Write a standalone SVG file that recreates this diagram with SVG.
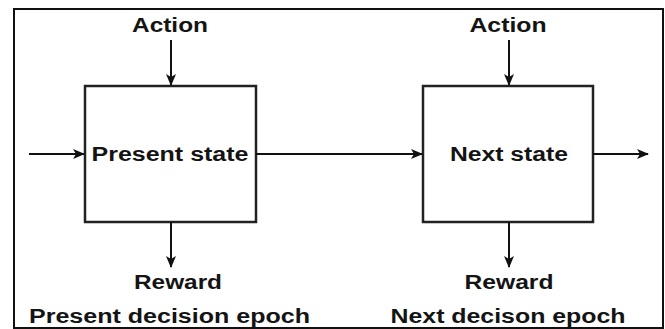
<svg xmlns="http://www.w3.org/2000/svg" width="665" height="329" viewBox="0 0 665 329">
<style>
.t{font-family:"Liberation Sans",Arial,sans-serif;font-weight:bold;font-size:20px;fill:#141414;text-anchor:middle}
.box{fill:#fff;stroke:#222;stroke-width:2.5}
.c{fill:none;stroke:#111;stroke-width:2}
</style>
<defs>
<marker id="ah" viewBox="0 0 12 10" refX="11" refY="5" markerWidth="12" markerHeight="10" markerUnits="userSpaceOnUse" orient="auto">
<path d="M0,0 L12,5 L0,10 L3,5 Z" fill="#111"/>
</marker>
</defs>
<rect x="0" y="0" width="665" height="329" fill="#fff"/>
<rect id="frame" x="14" y="9" width="649" height="319" fill="none" stroke="#111" stroke-width="2"/>
<g id="present-state">
<rect class="box" x="85" y="86" width="171" height="136"/>
<text class="t" x="170" y="161" textLength="157" lengthAdjust="spacingAndGlyphs">Present state</text>
</g>
<g id="next-state">
<rect class="box" x="423" y="86" width="170" height="136"/>
<text class="t" x="509" y="161" textLength="118" lengthAdjust="spacingAndGlyphs">Next state</text>
</g>
<g id="action-1"><text class="t" x="170" y="32" textLength="76" lengthAdjust="spacingAndGlyphs">Action</text></g>
<g id="action-2"><text class="t" x="508" y="32" textLength="77" lengthAdjust="spacingAndGlyphs">Action</text></g>
<g id="reward-1"><text class="t" x="178" y="289" textLength="88" lengthAdjust="spacingAndGlyphs">Reward</text></g>
<g id="reward-2"><text class="t" x="509" y="289" textLength="89" lengthAdjust="spacingAndGlyphs">Reward</text></g>
<g id="epoch-1"><text class="t" x="169.5" y="323" textLength="281" lengthAdjust="spacingAndGlyphs">Present decision epoch</text></g>
<g id="epoch-2"><text class="t" x="508" y="323" textLength="235" lengthAdjust="spacingAndGlyphs">Next decison epoch</text></g>
<g id="connectors">
<line class="c" x1="171" y1="40" x2="171" y2="85" marker-end="url(#ah)"/>
<line class="c" x1="509" y1="40" x2="509" y2="85" marker-end="url(#ah)"/>
<line class="c" x1="29" y1="154" x2="84" y2="154" marker-end="url(#ah)"/>
<line class="c" x1="256" y1="154" x2="422" y2="154" marker-end="url(#ah)"/>
<line class="c" x1="593" y1="154" x2="648" y2="154" marker-end="url(#ah)"/>
<line class="c" x1="171" y1="222" x2="171" y2="267" marker-end="url(#ah)"/>
<line class="c" x1="509" y1="222" x2="509" y2="267" marker-end="url(#ah)"/>
</g>
</svg>
